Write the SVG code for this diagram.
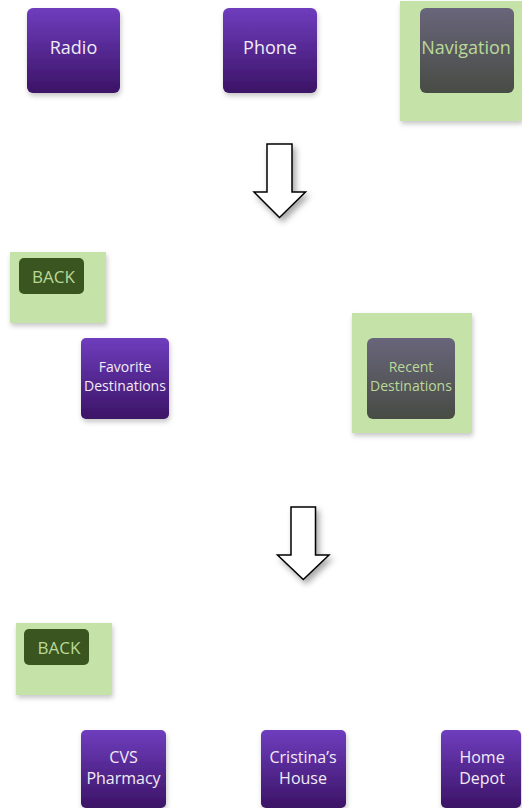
<svg xmlns="http://www.w3.org/2000/svg" width="522" height="808" viewBox="0 0 522 808">
  <defs>
    <linearGradient id="purple" x1="0" y1="0" x2="0" y2="1">
      <stop offset="0" stop-color="#6f3dbe"/>
      <stop offset="1" stop-color="#3b1466"/>
    </linearGradient>
    <linearGradient id="slate" x1="0" y1="0" x2="0" y2="1">
      <stop offset="0" stop-color="#69657b"/>
      <stop offset="1" stop-color="#474c44"/>
    </linearGradient>
    <filter id="soft" x="-20%" y="-20%" width="150%" height="150%">
      <feGaussianBlur in="SourceAlpha" stdDeviation="2.5"/>
      <feOffset dx="1" dy="3" result="b"/>
      <feFlood flood-color="#000" flood-opacity="0.22"/>
      <feComposite in2="b" operator="in"/>
      <feMerge><feMergeNode/><feMergeNode in="SourceGraphic"/></feMerge>
    </filter>
    <filter id="arrowShadow" x="-40%" y="-30%" width="190%" height="170%">
      <feGaussianBlur in="SourceAlpha" stdDeviation="3"/>
      <feOffset dx="3" dy="4" result="b"/>
      <feFlood flood-color="#000" flood-opacity="0.35"/>
      <feComposite in2="b" operator="in"/>
      <feMerge><feMergeNode/><feMergeNode in="SourceGraphic"/></feMerge>
    </filter>
  </defs>
  <style>
    .btn { fill: url(#purple); }
    .sel { fill: url(#slate); }
    .hl { fill: #c5e3a8; }
    .back { fill: #3b5520; }
    text { font-family: "Open Sans", "Noto Sans", sans-serif; text-anchor: middle; }
    .lt { fill: #f2ecf6; }
    .gt { fill: #b9da97; }
    .big { font-size: 18px; }
    .mid { font-size: 14px; }
    .low { font-size: 16px; }
    .arrow { fill: #ffffff; stroke: #000000; stroke-width: 1.5; stroke-linejoin: miter; }
  </style>

  <rect width="522" height="808" fill="#ffffff"/>

  <!-- main menu -->
  <g id="radio">
    <rect class="btn" x="27" y="8" width="93" height="85" rx="6" filter="url(#soft)"/>
    <text class="lt big" x="73.5" y="54">Radio</text>
  </g>
  <g id="phone">
    <rect class="btn" x="223" y="8" width="94" height="85" rx="6" filter="url(#soft)"/>
    <text class="lt big" x="270" y="54">Phone</text>
  </g>
  <g id="navigation">
    <rect class="hl" x="400" y="1" width="122" height="120" filter="url(#soft)"/>
    <rect class="sel" x="420" y="8" width="94" height="85" rx="6"/>
    <text class="gt big" x="466" y="54">Navigation</text>
  </g>

  <!-- navigation menu -->
  <g id="back-1">
    <rect class="hl" x="10" y="252" width="96" height="71" filter="url(#soft)"/>
    <rect class="back" x="19" y="258" width="65" height="36" rx="5"/>
    <text class="gt" x="53.5" y="283" font-size="17">BACK</text>
  </g>
  <g id="favorite-destinations">
    <rect class="btn" x="81" y="338" width="88" height="81" rx="5" filter="url(#soft)"/>
    <text class="lt mid" x="125" y="372">Favorite</text>
    <text class="lt mid" x="125" y="391">Destinations</text>
  </g>
  <g id="recent-destinations">
    <rect class="hl" x="352" y="313" width="120" height="120" filter="url(#soft)"/>
    <rect class="sel" x="367" y="338" width="88" height="81" rx="6"/>
    <text class="gt mid" x="411" y="372">Recent</text>
    <text class="gt mid" x="411" y="391">Destinations</text>
  </g>

  <!-- recent destinations list -->
  <g id="back-2">
    <rect class="hl" x="16" y="623" width="96" height="72" filter="url(#soft)"/>
    <rect class="back" x="24" y="629" width="65" height="36" rx="5"/>
    <text class="gt" x="59" y="654" font-size="17">BACK</text>
  </g>
  <g id="cvs-pharmacy">
    <rect class="btn" x="81" y="730" width="85" height="78" rx="5" filter="url(#soft)"/>
    <text class="lt low" x="123.5" y="763">CVS</text>
    <text class="lt low" x="123.5" y="784">Pharmacy</text>
  </g>
  <g id="cristinas-house">
    <rect class="btn" x="261" y="730" width="85" height="78" rx="5" filter="url(#soft)"/>
    <text class="lt low" x="303" y="763">Cristina’s</text>
    <text class="lt low" x="303" y="784">House</text>
  </g>
  <g id="home-depot">
    <rect class="btn" x="441" y="730" width="80" height="78" rx="5" filter="url(#soft)"/>
    <text class="lt low" x="482" y="763">Home</text>
    <text class="lt low" x="482" y="784">Depot</text>
  </g>

  <!-- step arrows -->
  <g id="connectors">
    <path class="arrow" filter="url(#arrowShadow)" d="M267,144 H292 V192 H305.5 L279.5,217.5 L254,192 H267 Z"/>
    <path class="arrow" filter="url(#arrowShadow)" d="M291,507 H315.5 V555 H329 L303.3,579.5 L277.5,555 H291 Z"/>
  </g>
</svg>
